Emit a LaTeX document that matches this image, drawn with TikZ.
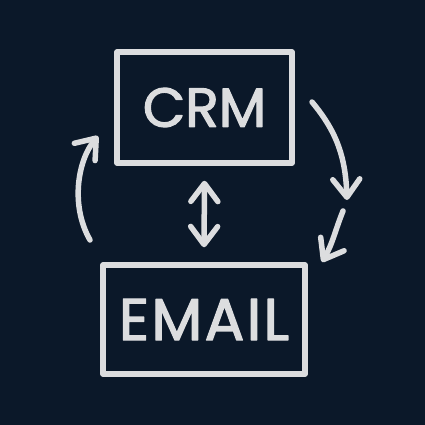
\documentclass[tikz,border=0pt]{standalone}
\usepackage{fontspec}
\newfontfamily\chalkfont{Poppins}[FakeBold=2.2]
\newfontfamily\chalkwidefont{Poppins}[FakeBold=2.2,LetterSpace=4]
\usetikzlibrary{arrows.meta}
\definecolor{bgnavy}{HTML}{0B1829}
\definecolor{chalk}{HTML}{DCDDDF}
\begin{document}
\begin{tikzpicture}[x=1pt,y=-1pt,
  chalkline/.style={draw=chalk,line width=5.5pt,line cap=round,line join=round},
  chalkbox/.style={chalkline,rectangle,inner sep=0pt,text=chalk},
  chalkarrow/.style={chalkline,-{Straight Barb[length=18pt,width=27pt,line cap=round,line join=round]}}]

\fill [bgnavy] (0,0) rectangle (425,425);
\useasboundingbox (0,0) rectangle (425,425);

\node [chalkbox,minimum width=175pt,minimum height=111pt,font=\chalkfont\fontsize{55}{60}\selectfont] (crm) at (204.5,107.5) {CRM};
\node [chalkbox,minimum width=202pt,minimum height=109pt,font=\chalkwidefont\fontsize{59}{64}\selectfont] (email) at (204,319.5) {EMAIL};

\draw [chalkline,{Straight Barb[length=18pt,width=27pt,line cap=round,line join=round]}-{Straight Barb[length=18pt,width=27pt,line cap=round,line join=round]}]
  ([yshift=-15pt]crm.south) -- ([yshift=15pt]email.north);

\coordinate (leftstart) at (90,240);
\coordinate (lefttip) at (98,136);
\coordinate (rightstart) at (312,102);
\coordinate (righttip) at (347,200);
\coordinate (lowstart) at (343,211);
\coordinate (lowtip) at (322,262);

\draw [chalkarrow] (leftstart) .. controls (70,205) and (78,160) .. (lefttip);
\draw [chalkarrow] (rightstart) to[out=-50,in=92] (righttip);
\draw [chalkarrow] (lowstart) to[out=-112,in=60] (lowtip);

\end{tikzpicture}
\end{document}
